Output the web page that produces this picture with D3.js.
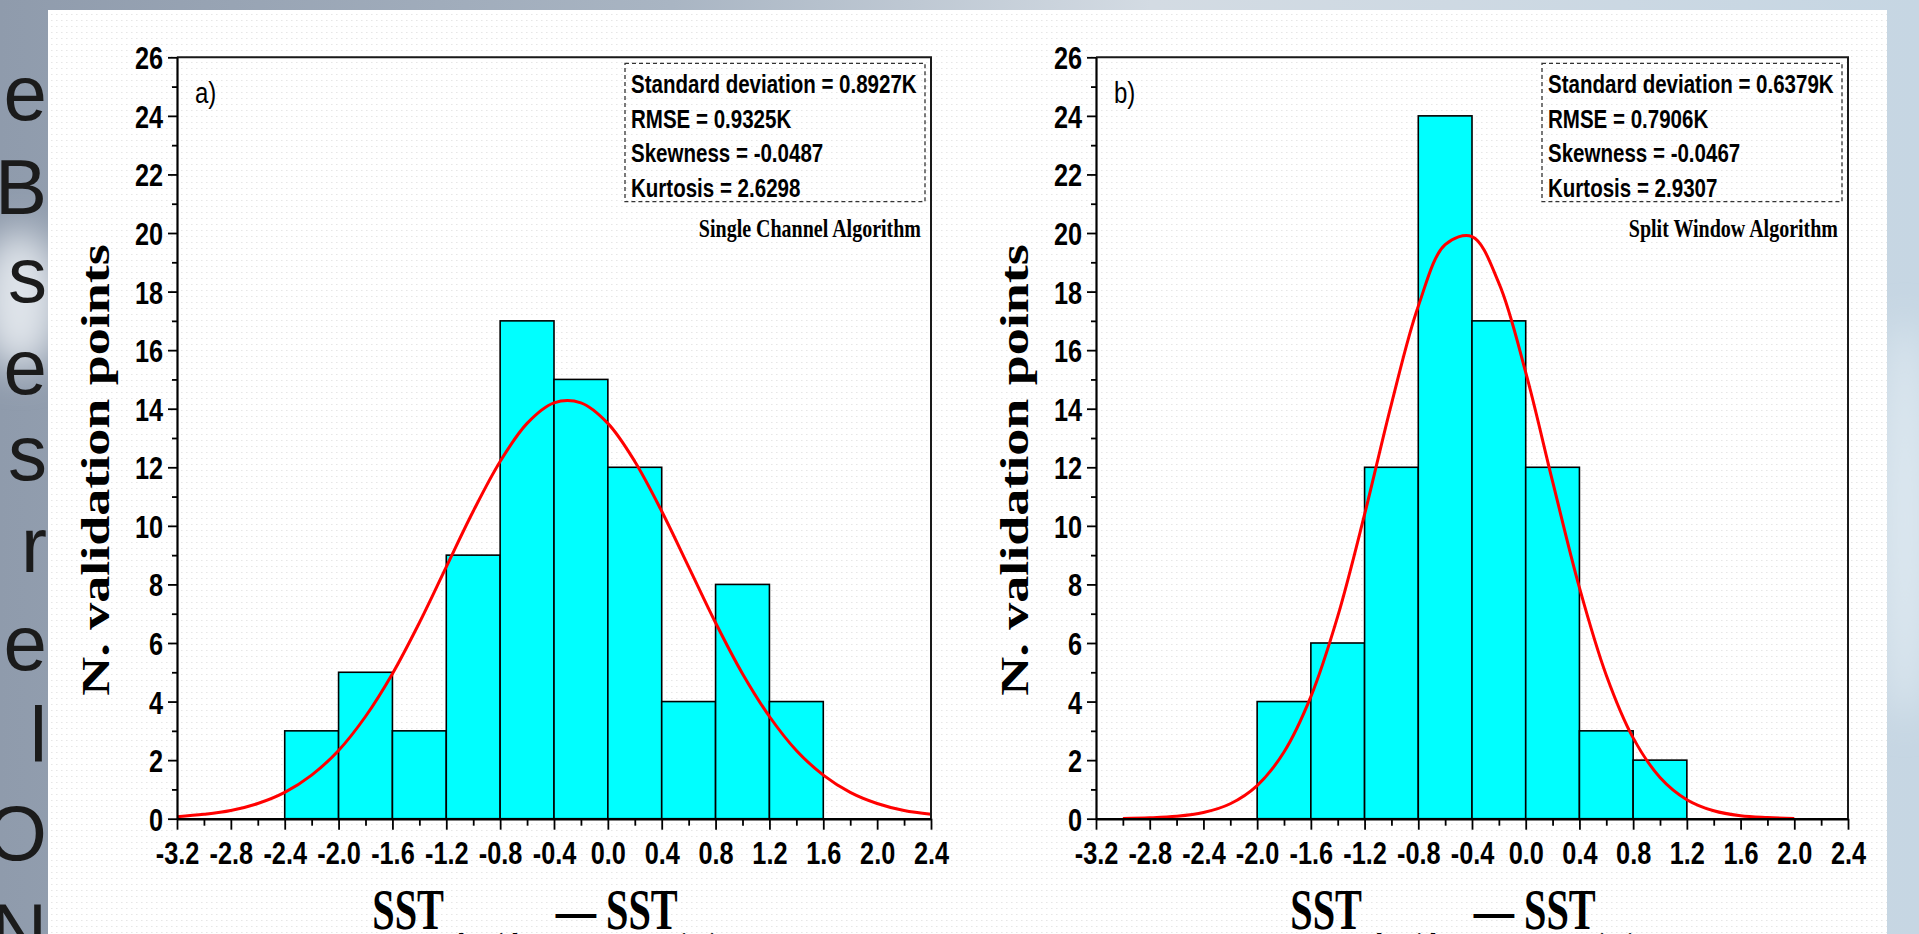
<!DOCTYPE html>
<html>
<head>
<meta charset="utf-8">
<script src="https://cdn.jsdelivr.net/npm/d3@7"></script>
<style>
  html, body { margin: 0; padding: 0; overflow: hidden; background: #a9b5c3; }
  svg { display: block; }
</style>
</head>
<body>
<script>
// histogram data (bin width 0.4 K)
const binWidth = 0.4;
const binStartsA = [-2.4, -2.0, -1.6, -1.2, -0.8, -0.4, 0.0, 0.4, 0.8, 1.2];
const countsA = [3, 5, 3, 9, 17, 15, 12, 4, 8, 4];
const binStartsB = [-2.0, -1.6, -1.2, -0.8, -0.4, 0.0, 0.4, 0.8];
const countsB = [4, 6, 12, 24, 17, 12, 3, 2];

// red fitted curves
const fitXA = [-3.2, -3.0, -2.8, -2.6, -2.4, -2.2, -2.0, -1.8, -1.6, -1.4, -1.2, -1.0, -0.8, -0.6, -0.4, -0.2, 0.0, 0.2, 0.4, 0.6, 0.8, 1.0, 1.2, 1.4, 1.6, 1.8, 2.0, 2.2, 2.4];
const fitYA = [0.07, 0.15, 0.28, 0.52, 0.9, 1.49, 2.33, 3.49, 4.95, 6.69, 8.6, 10.5, 12.2, 13.5, 14.2, 14.2, 13.5, 12.2, 10.5, 8.6, 6.69, 4.95, 3.49, 2.33, 1.49, 0.9, 0.52, 0.28, 0.15];
const fitXB = [-3.0, -2.8, -2.6, -2.4, -2.2, -2.0, -1.8, -1.6, -1.4, -1.2, -1.0, -0.8, -0.6, -0.4, -0.2, 0.0, 0.2, 0.4, 0.6, 0.8, 1.0, 1.2, 1.4, 1.6, 1.8, 2.0];
const fitYB = [0.01, 0.03, 0.08, 0.21, 0.51, 1.13, 2.28, 4.17, 6.91, 10.39, 14.16, 17.5, 19.6, 19.88, 18.29, 15.24, 11.52, 7.89, 4.9, 2.76, 1.41, 0.65, 0.27, 0.1, 0.04, 0.01];

// axis ticks
const yMajor = [0, 2, 4, 6, 8, 10, 12, 14, 16, 18, 20, 22, 24, 26];
const yMinor = [1, 3, 5, 7, 9, 11, 13, 15, 17, 19, 21, 23, 25];
const xMajor = [-3.2, -2.8, -2.4, -2.0, -1.6, -1.2, -0.8, -0.4, 0.0, 0.4, 0.8, 1.2, 1.6, 2.0, 2.4];
const xMinor = [-3.0, -2.6, -2.2, -1.8, -1.4, -1.0, -0.6, -0.2, 0.2, 0.6, 1.0, 1.4, 1.8, 2.2];

// texts
const statsA = ["Standard deviation = 0.8927K", "RMSE = 0.9325K", "Skewness = -0.0487", "Kurtosis = 2.6298"];
const statsB = ["Standard deviation = 0.6379K", "RMSE = 0.7906K", "Skewness = -0.0467", "Kurtosis = 2.9307"];
const methods = ["Single Channel Algorithm", "Split Window Algorithm"];
const panelTags = ["a)", "b)"];
const yTitle = "N. validation points";
const sideLetters = ["e", "B", "s", "e", "s", "r", "e", "l", "O", "N"];
const sideBaselines = [120, 214, 302, 394, 480, 572, 670, 762, 860, 958];

const W = 1919, H = 934;
const svg = d3.select("body").append("svg")
  .attr("width", W)
  .attr("height", H);

const defs = svg.append("defs");
const bg = defs.append("linearGradient").attr("id", "bg").attr("x1", 0).attr("x2", 1).attr("y1", 0).attr("y2", 0);
bg.append("stop").attr("offset", "0%").attr("stop-color", "#8f9bac");
bg.append("stop").attr("offset", "35%").attr("stop-color", "#a9b5c3");
bg.append("stop").attr("offset", "60%").attr("stop-color", "#d3dbe3");
bg.append("stop").attr("offset", "100%").attr("stop-color", "#c6d6e3");
const blur = defs.append("filter").attr("id", "blur").attr("x", "-50%").attr("y", "-50%").attr("width", "200%").attr("height", "200%");
blur.append("feGaussianBlur").attr("stdDeviation", 18);
const dots = defs.append("pattern").attr("id", "dots")
  .attr("patternUnits", "userSpaceOnUse").attr("width", 5).attr("height", 6);
dots.append("rect").attr("width", 5).attr("height", 6).attr("fill", "#ffffff");
dots.append("rect").attr("x", 1).attr("y", 2).attr("width", 1.5).attr("height", 1).attr("fill", "#e6e6e6");

// slide background behind the figure
svg.append("rect").attr("width", W).attr("height", H).attr("fill", "url(#bg)");
svg.append("ellipse").attr("cx", 20).attr("cy", 300).attr("rx", 40).attr("ry", 70)
  .attr("fill", "#dfe4ea").attr("filter", "url(#blur)");
svg.append("ellipse").attr("cx", 1905).attr("cy", 520).attr("rx", 25).attr("ry", 200)
  .attr("fill", "#dde8f0").attr("filter", "url(#blur)");

svg.append("g").selectAll("text")
  .data(sideLetters)
  .join("text")
  .attr("x", 47)
  .attr("y", (d, i) => sideBaselines[i])
  .attr("text-anchor", "end")
  .attr("font-family", "'Liberation Sans', Arial, sans-serif")
  .attr("font-size", 78)
  .attr("fill", "#1b1b1b")
  .text(d => d);

// white figure panel
svg.append("rect")
  .attr("x", 48).attr("y", 10)
  .attr("width", 1887 - 48).attr("height", H)
  .attr("fill", "url(#dots)");

const sq = 0.79;
const yTop = 57.3, yBottom = 818.7;

const panels = [
  { x0: 177, x1: 931, starts: binStartsA, counts: countsA, fx: fitXA, fy: fitYA, stats: statsA, method: methods[0], tag: panelTags[0] },
  { x0: 1096, x1: 1848, starts: binStartsB, counts: countsB, fx: fitXB, fy: fitYB, stats: statsB, method: methods[1], tag: panelTags[1] }
];

panels.forEach(p => {
  const x = d3.scaleLinear().domain([-3.2, 2.4]).range([p.x0, p.x1]);
  const y = d3.scaleLinear().domain([0, 26]).range([yBottom, yTop]);
  const g = svg.append("g");

  // bars
  g.append("g").selectAll("rect")
    .data(p.counts)
    .join("rect")
    .attr("x", (d, i) => x(p.starts[i]))
    .attr("width", (d, i) => x(p.starts[i] + binWidth) - x(p.starts[i]))
    .attr("y", d => y(d))
    .attr("height", d => y(0) - y(d))
    .attr("fill", "#00ffff")
    .attr("stroke", "#000")
    .attr("stroke-width", 1.6);

  // fitted curve
  const line = d3.line()
    .x((d, i) => x(p.fx[i]))
    .y(d => y(d))
    .curve(d3.curveCatmullRom);
  g.append("path")
    .attr("d", line(p.fy))
    .attr("fill", "none")
    .attr("stroke", "#ff0000")
    .attr("stroke-width", 3);

  // frame (top / right)
  g.append("path")
    .attr("d", `M${p.x0},${yTop}H${p.x1}V${yBottom}`)
    .attr("fill", "none")
    .attr("stroke", "#1a1a1a")
    .attr("stroke-width", 2);

  // y axis
  const yAx = g.append("g").attr("transform", `translate(${p.x0},0)`)
    .call(d3.axisLeft(y).tickValues(yMajor).tickSize(9).tickSizeOuter(0).tickFormat(d3.format("d")));
  yAx.select(".domain").attr("stroke-width", 2.2);
  yAx.selectAll(".tick line").attr("stroke-width", 1.8);
  yAx.selectAll(".tick text")
    .attr("x", -14 / sq)
    .attr("dy", "0.36em")
    .attr("transform", `scale(${sq},1)`)
    .attr("font-family", "'Liberation Sans', Arial, sans-serif")
    .attr("font-weight", "bold")
    .attr("font-size", 32)
    .attr("fill", "#000");
  const yMin = g.append("g").attr("transform", `translate(${p.x0},0)`)
    .call(d3.axisLeft(y).tickValues(yMinor).tickSize(5).tickFormat(""));
  yMin.select(".domain").remove();
  yMin.selectAll(".tick line").attr("stroke-width", 1.8);

  // x axis
  const xAx = g.append("g").attr("transform", `translate(0,${yBottom})`)
    .call(d3.axisBottom(x).tickValues(xMajor).tickSize(11).tickSizeOuter(0).tickFormat(d => d.toFixed(1)));
  xAx.select(".domain").attr("stroke-width", 2.6);
  xAx.selectAll(".tick line").attr("stroke-width", 1.8);
  xAx.selectAll(".tick text")
    .attr("y", 45)
    .attr("dy", 0)
    .attr("transform", `scale(${sq},1)`)
    .attr("font-family", "'Liberation Sans', Arial, sans-serif")
    .attr("font-weight", "bold")
    .attr("font-size", 32)
    .attr("fill", "#000");
  const xMin = g.append("g").attr("transform", `translate(0,${yBottom})`)
    .call(d3.axisBottom(x).tickValues(xMinor).tickSize(7).tickFormat(""));
  xMin.select(".domain").remove();
  xMin.selectAll(".tick line").attr("stroke-width", 1.8);

  // panel tag
  g.append("text")
    .attr("transform", `translate(${p.x0 + 18},103) scale(0.8,1)`)
    .attr("font-family", "'Liberation Sans', Arial, sans-serif")
    .attr("font-size", 30)
    .attr("fill", "#000")
    .text(p.tag);

  // stats box
  const bx0 = p.x1 - 306, bx1 = p.x1 - 6;
  g.append("rect")
    .attr("x", bx0).attr("y", 63.3)
    .attr("width", bx1 - bx0).attr("height", 201.7 - 63.3)
    .attr("fill", "none")
    .attr("stroke", "#333")
    .attr("stroke-width", 1.3)
    .attr("stroke-dasharray", "4,3");
  const baselines = [93, 128, 162, 196.5];
  g.append("g").selectAll("text")
    .data(p.stats)
    .join("text")
    .attr("transform", (d, i) => `translate(${bx0 + 6},${baselines[i]}) scale(0.79,1)`)
    .attr("font-family", "'Liberation Sans', Arial, sans-serif")
    .attr("font-weight", "bold")
    .attr("font-size", 26)
    .attr("fill", "#000")
    .text(d => d);

  g.append("text")
    .attr("transform", `translate(${p.x1 - 10},237) scale(0.8,1)`)
    .attr("text-anchor", "end")
    .attr("font-family", "'Liberation Serif', 'Times New Roman', serif")
    .attr("font-weight", "bold")
    .attr("font-size", 25)
    .attr("fill", "#000")
    .text(p.method);

  // y title
  g.append("text")
    .attr("transform", `translate(${p.x0 - 68},470) rotate(-90) scale(1,0.75)`)
    .attr("text-anchor", "middle")
    .attr("font-family", "'Liberation Serif', 'Times New Roman', serif")
    .attr("font-weight", "bold")
    .attr("font-size", 54)
    .attr("fill", "#000")
    .text(yTitle);

  // x title: SST_algorithm — SST_insitu
  const xt = g.append("text")
    .attr("transform", `translate(${(p.x0 + p.x1) / 2},929) scale(0.72,1)`)
    .attr("text-anchor", "middle")
    .attr("font-family", "'Liberation Serif', 'Times New Roman', serif")
    .attr("font-weight", "bold")
    .attr("font-size", 56)
    .attr("fill", "#000");
  xt.append("tspan").text("SST");
  xt.append("tspan").attr("font-size", 32).attr("dy", 26).attr("dx", 4).text("algorithm");
  xt.append("tspan").attr("dy", -26).attr("dx", 16).text("\u2014");
  xt.append("tspan").attr("dx", 14).text("SST");
  xt.append("tspan").attr("font-size", 32).attr("dy", 26).attr("dx", 4).text("insitu");
});
</script>
</body>
</html>
